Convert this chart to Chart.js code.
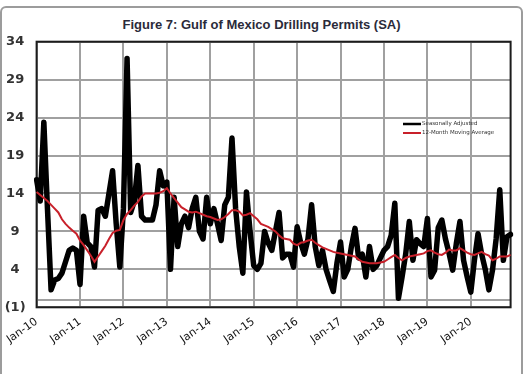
<!DOCTYPE html>
<html>
<head>
<meta charset="utf-8">
<script src="https://cdn.jsdelivr.net/npm/chart.js@4.4.1/dist/chart.umd.min.js"></script>
<style>
  body { margin: 0; background: #fff; }
  #wrap { position: relative; width: 532px; height: 374px; overflow: hidden; }
  #frame { position: absolute; left: 0; top: 6px; width: 519px; height: 400px; border: 2px solid #9c9c9c; border-radius: 6px; }
  #title { position: absolute; left: 0; top: 17px; width: 523px; text-align: center; font: bold 13px 'Liberation Sans', sans-serif; color: #2b2b3a; }
  canvas { position: absolute; left: 0; top: 0; }
</style>
</head>
<body>
<div id="wrap">
  <div id="frame"></div>
  <div id="title">Figure 7: Gulf of Mexico Drilling Permits (SA)</div>
  <canvas id="permits" width="532" height="374"></canvas>
</div>
<script>
// monthly labels Jan-10 .. Dec-20
const monthNames = ['Jan', 'Feb', 'Mar', 'Apr', 'May', 'Jun', 'Jul', 'Aug', 'Sep', 'Oct', 'Nov', 'Dec'];
const months = [];
for (let yr = 10; yr <= 20; yr++) {
  monthNames.forEach(m => months.push(m + '-' + yr));
}

const seasonallyAdjusted = [
  15.8, 13, 23.4, 12, 1.3, 2.6, 2.8, 3.5, 5, 6.5, 6.8, 6.5,
  2, 11, 7.5, 7, 4.3, 11.8, 12, 11, 14, 17, 10, 4.3,
  12, 31.8, 11.5, 13, 17.7, 11, 10.5, 10.5, 10.5, 12.5, 17, 15,
  15.5, 4, 13.5, 7, 10, 11, 9.5, 12, 13.5, 9, 8, 13.5,
  10, 12, 10, 7.8, 12.5, 13.5, 21.3, 12, 7, 3.5, 14.2, 9,
  4.5, 4, 4.8, 9, 7.5, 6.5, 9, 11.5, 5.5, 6, 6, 4.3,
  9.6, 7.5, 6, 8, 12.5, 7, 4.5, 6.5, 4, 2.5, 1.1, 4.8,
  7.6, 3, 4, 7, 9.4, 5.5, 6, 3, 7, 4, 4.5, 5.5,
  6.5, 7, 8.5, 12.7, 0.2, 3, 6, 10.3, 5.2, 7.9, 7.4, 7,
  10.7, 3, 3.9, 9.5, 10.5, 8, 6.1, 3.9, 7.4, 10.3, 5.2, 3,
  1, 5.2, 8.7, 6, 4, 1.3, 3.9, 8, 14.5, 5.2, 8.3, 8.6
];

const movingAverage = [
  14.2, 13.8, 13.4, 13, 12.5, 12, 11.5, 10.6, 10, 9.5, 9.1, 8.7,
  7.8, 7.2, 6.5, 5.8, 5, 5.7, 6.4, 7.1, 8, 8.8, 9.1, 9.2,
  10.5, 11.3, 11.8, 12.4, 12.9, 13.6, 14, 14, 14, 14, 14.1, 14.3,
  14.7, 14, 13.4, 12.8, 12.2, 11.9, 11.6, 11.5, 11.6, 11.4, 11.2, 11,
  10.9, 10.7, 10.5, 10.6, 10.9, 11.3, 11.8, 11.8, 11.6, 11.1, 11.2, 11.4,
  11, 10.6, 10, 9.8, 9.6, 9.3, 9, 8.5, 8.1, 8, 7.9, 7.4,
  7.2, 7.5, 7.6, 7.8, 7.9, 7.5, 7.2, 6.9, 6.7, 6.5, 6.3, 6.2,
  6.1, 6, 5.9, 5.8, 5.7, 5.3, 5, 4.9, 4.8, 4.8, 4.8, 4.9,
  5, 5.3, 5.6, 5.9, 5.5, 5.2, 5.5, 5.7, 5.8, 5.9, 6, 6.1,
  6.4, 6.5, 6.2, 6, 5.9, 6.2, 6.6, 6.5, 6.5, 6.8, 6.5, 6.2,
  6, 5.9, 6.1, 6.3, 6, 5.8, 5.2, 5.4, 5.7, 5.7, 5.7, 5.9
];

// value axis: labelled steps plus the zero crossing line
const yTicks = [-1, 0, 4, 9, 14, 19, 24, 29, 34];

const gridGray = '#a0a0a0';

// black box round the plot area
const plotFrame = {
  id: 'plotFrame',
  beforeDatasetsDraw(chart) {
    const { ctx, chartArea: a } = chart;
    ctx.save();
    ctx.strokeStyle = '#1c1c1c';
    ctx.lineWidth = 2;
    ctx.strokeRect(a.left, a.top, a.right - a.left, a.bottom - a.top);
    ctx.restore();
  }
};

// small legend sitting inside the plot
const innerLegend = {
  id: 'innerLegend',
  afterDraw(chart) {
    const ctx = chart.ctx;
    const items = [
      { text: 'Seasonally Adjusted', color: '#000', width: 2.5, y: 124 },
      { text: '12-Month Moving Average', color: '#c8202a', width: 2, y: 133 }
    ];
    ctx.save();
    ctx.font = '5.5px "DejaVu Sans"';
    ctx.textBaseline = 'middle';
    items.forEach(it => {
      ctx.strokeStyle = it.color;
      ctx.lineWidth = it.width;
      ctx.beginPath();
      ctx.moveTo(403, it.y);
      ctx.lineTo(421, it.y);
      ctx.stroke();
      ctx.fillStyle = '#333';
      ctx.fillText(it.text, 422, it.y);
    });
    ctx.restore();
  }
};

new Chart(document.getElementById('permits'), {
  type: 'line',
  data: {
    labels: months,
    datasets: [
      {
        label: 'Seasonally Adjusted',
        data: seasonallyAdjusted,
        borderColor: '#000',
        borderWidth: 5.5,
        borderJoinStyle: 'round',
        borderCapStyle: 'round',
        pointRadius: 0,
        tension: 0,
        order: 2
      },
      {
        label: '12-Month Moving Average',
        data: movingAverage,
        borderColor: '#c8202a',
        borderWidth: 2,
        pointRadius: 0,
        tension: 0,
        order: 1
      }
    ]
  },
  options: {
    responsive: false,
    animation: false,
    devicePixelRatio: 1,
    layout: { padding: { top: 41.7, right: 21.4, left: 0, bottom: 0 } },
    plugins: {
      legend: { display: false },
      tooltip: { enabled: false }
    },
    scales: {
      x: {
        type: 'category',
        offset: false,
        afterBuildTicks: s => { s.ticks = s.ticks.filter(t => t.value % 12 === 0); },
        afterFit: s => { s.height = 66.7; },
        grid: { color: gridGray, lineWidth: 2, drawTicks: false },
        border: { display: false },
        ticks: {
          autoSkip: false,
          minRotation: 35,
          maxRotation: 35,
          padding: 8,
          color: '#111',
          font: { family: 'DejaVu Sans', size: 11 }
        }
      },
      y: {
        min: -1,
        max: 34,
        afterBuildTicks: s => { s.ticks = yTicks.map(v => ({ value: v })); },
        afterFit: s => { s.width = 36.6; },
        grid: { color: gridGray, lineWidth: 2, drawTicks: false },
        border: { display: false },
        ticks: {
          crossAlign: 'center',
          padding: 11,
          color: '#333',
          font: { family: 'DejaVu Sans', size: 13, weight: 'bold' },
          callback: v => v === 0 ? '' : (v < 0 ? '(' + (-v) + ')' : v)
        }
      }
    }
  },
  plugins: [plotFrame, innerLegend]
});
</script>
</body>
</html>
